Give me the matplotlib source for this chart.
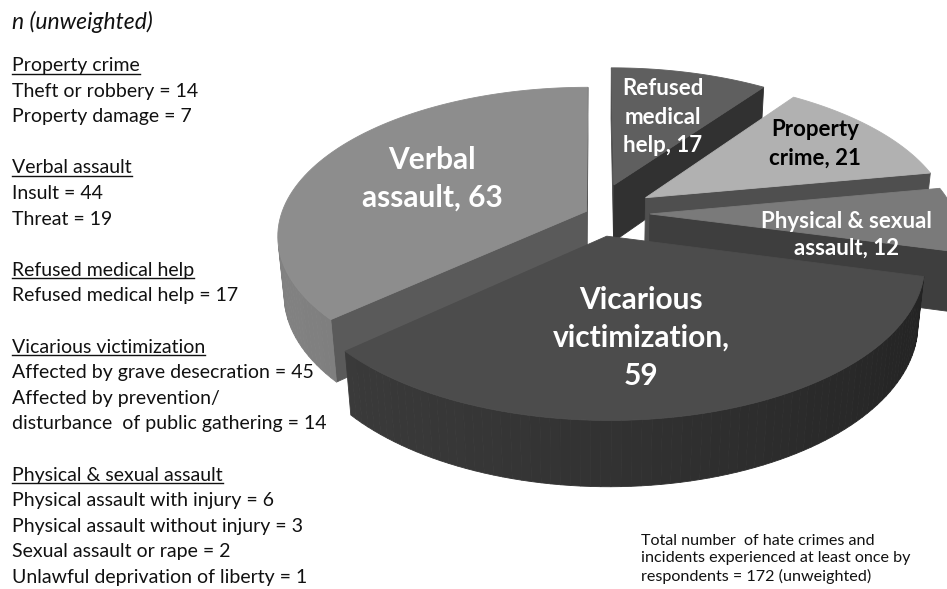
import numpy as np
import matplotlib.pyplot as plt
from matplotlib.patches import Polygon
from matplotlib.colors import to_rgb

plt.rcParams['font.family'] = ['Lato', 'DejaVu Sans']

# slices, clockwise from 12 o'clock
slice_names = ["Refused\nmedical\nhelp", "Property\ncrime", "Physical & sexual\nassault",
               "Vicarious\nvictimization", "Verbal\nassault"]
slice_counts = [17, 21, 12, 59, 63]
slice_sep = [", ", ", ", ", ", ",\n", ", "]
slice_explode = [0.21, 0.20, 0.18, 0.16, 0.03]
top_colors = ["#5f5f5f", "#b1b1b1", "#7a7a7a", "#4c4c4c", "#8d8d8d"]
wall_colors = ["#3b3b3b", "#4c4c4c", "#363636", "#2e2e2e", "#656565"]
label_colors = ["white", "black", "white", "white", "white"]
label_xy = [(663, 117), (815, 144), (846, 235), (641, 338), (432, 179)]
label_size = [16, 16, 16, 21.5, 21.5]
label_spacing = [1.45, 1.45, 1.3, 1.45, 1.42]

# breakdown shown on the left
group_titles = ["Property crime", "Verbal assault", "Refused medical help",
                "Vicarious victimization", "Physical & sexual assault"]
property_items = ["Theft or robbery", "Property damage"]
property_n = [14, 7]
verbal_items = ["Insult", "Threat"]
verbal_n = [44, 19]
medical_items = ["Refused medical help"]
medical_n = [17]
vicarious_items = ["Affected by grave desecration",
                   "Affected by prevention/\ndisturbance  of public gathering"]
vicarious_n = [45, 14]
physical_items = ["Physical assault with injury", "Physical assault without injury",
                  "Sexual assault or rape", "Unlawful deprivation of liberty"]
physical_n = [6, 3, 2, 1]
total_n = 172

# simple perspective camera
elev = np.radians(28.4)
cam_dist = 5.3
scale = 305
origin = (595, 213)
depth = 0.22

fwd = np.array([0.0, np.cos(elev), -np.sin(elev)])
up = np.array([0.0, np.sin(elev), np.cos(elev)])
cam = -cam_dist * fwd
light = np.array([-0.95, -0.31, 0.0])
light = light / np.linalg.norm(light)


def project(pts):
    d = np.atleast_2d(pts) - cam
    zc = d @ fwd
    sx = origin[0] + scale * cam_dist * d[:, 0] / zc
    sy = origin[1] - scale * cam_dist * (d @ up) / zc
    return np.column_stack([sx, sy])


def shade(color, normal):
    k = 1 + 0.28 * float(normal @ light)
    return tuple(np.clip(np.array(to_rgb(color)) * k, 0, 1))


fig = plt.figure(figsize=(9.47, 5.89), dpi=100)
ax = fig.add_axes([0, 0, 1, 1])
ax.set_xlim(0, 947)
ax.set_ylim(589, 0)
ax.axis("off")

fracs = np.array(slice_counts) / sum(slice_counts)
ends = np.cumsum(fracs) * 2 * np.pi
starts = ends - fracs * 2 * np.pi
down = np.array([0, 0, depth])

walls = []
tops = []
for i in range(len(slice_counts)):
    a, b = starts[i], ends[i]
    mid = (a + b) / 2
    off = slice_explode[i] * np.array([np.sin(mid), np.cos(mid), 0.0])
    t = np.linspace(a, b, 80)
    rim = np.column_stack([np.sin(t), np.cos(t), np.zeros_like(t)]) + off

    # outer curved wall, in small pieces
    for j in range(len(t) - 1):
        quad = np.array([rim[j], rim[j + 1], rim[j + 1] - down, rim[j] - down])
        tm = (t[j] + t[j + 1]) / 2
        n = np.array([np.sin(tm), np.cos(tm), 0.0])
        c = quad.mean(axis=0)
        if n @ (cam - c) > 0:
            walls.append(((c - cam) @ fwd, project(quad), shade(wall_colors[i], n)))

    # the two cut faces
    for ang, n in [(a, np.array([-np.cos(a), np.sin(a), 0.0])),
                   (b, np.array([np.cos(b), -np.sin(b), 0.0]))]:
        p = off + np.array([np.sin(ang), np.cos(ang), 0.0])
        quad = np.array([off, p, p - down, off - down])
        c = quad.mean(axis=0)
        if n @ (cam - c) > 0:
            walls.append(((c - cam) @ fwd, project(quad), shade(wall_colors[i], n)))

    tops.append((project(np.vstack([off, rim])), top_colors[i]))

walls.sort(key=lambda w: -w[0])
for _, poly, col in walls:
    ax.add_patch(Polygon(poly, closed=True, facecolor=col, edgecolor=col, lw=0.6))
for poly, col in tops:
    ax.add_patch(Polygon(poly, closed=True, facecolor=col, edgecolor=col, lw=0.6))

for i in range(len(slice_counts)):
    ax.text(label_xy[i][0], label_xy[i][1], f"{slice_names[i]}{slice_sep[i]}{slice_counts[i]}",
            ha="center", va="center", ma="center", fontsize=label_size[i],
            fontweight="bold", color=label_colors[i], linespacing=label_spacing[i])

# left hand breakdown
ax.text(12, 29, "n (unweighted)", fontsize=16.5, style="italic", color="#111111",
        va="baseline")
groups = [(property_items, property_n), (verbal_items, verbal_n), (medical_items, medical_n),
          (vicarious_items, vicarious_n), (physical_items, physical_n)]
step = 25.6
y = 65
headings = []
for title, (items, nums) in zip(group_titles, groups):
    headings.append(ax.text(12, y + 6, title, fontsize=14, color="#111111", va="baseline"))
    y += step
    for item, v in zip(items, nums):
        for part in f"{item} = {v}".split("\n"):
            ax.text(12, y + 6, part, fontsize=14, color="#111111", va="baseline")
            y += step
    y += step

ax.text(641, 534, "Total number  of hate crimes and\nincidents experienced at least once by\n"
        f"respondents = {total_n} (unweighted)",
        fontsize=11.6, color="#111111", va="top", linespacing=1.3)

# underline the group headings
fig.canvas.draw()
renderer = fig.canvas.get_renderer()
inv = ax.transData.inverted()
for h in headings:
    bb = h.get_window_extent(renderer)
    x0 = inv.transform((bb.x0, bb.y0))[0]
    x1 = inv.transform((bb.x1, bb.y0))[0]
    yb = h.get_position()[1] + 2.5
    ax.plot([x0, x1], [yb, yb], color="#111111", lw=1.0)

fig.savefig("out.png", dpi=100)
